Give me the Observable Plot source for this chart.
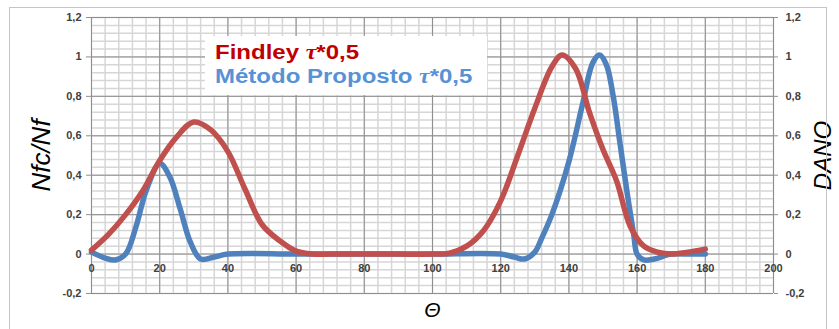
<!DOCTYPE html>
<html>
<head>
<meta charset="utf-8">
<script src="https://cdn.jsdelivr.net/npm/d3@7"></script>
<script src="https://cdn.jsdelivr.net/npm/@observablehq/plot@0.6"></script>
<style>
  html, body { margin: 0; padding: 0; background: #fff; overflow: hidden; }
  #wrap { position: relative; width: 839px; height: 329px; overflow: hidden; }
  #frame { position: absolute; left: 9px; top: 7px; width: 818px; height: 340px; border: 1px solid #c4c4c4; box-sizing: border-box; pointer-events: none; }
  #legend { position: absolute; left: 205px; top: 36px; width: 282px; height: 59px; background: #fff; font-family: "Liberation Sans", Arial, sans-serif; font-weight: bold; font-size: 20px; line-height: 24px; padding-top: 4px; box-sizing: border-box; }
  #legend div { padding-left: 10px; white-space: nowrap; }
  #legend span.t { display: inline-block; transform: scaleX(1.2); transform-origin: left center; }
  .tau { font-family: "Liberation Serif", serif; font-style: italic; font-weight: bold; }
  svg { position: absolute; left: 0; top: 0; }
</style>
</head>
<body>
<div id="wrap"></div>
<script>
// Findley τ*0,5
const thetaFindley = [0,5,10,15,20,25,30,35,40,45,50,55,60,65,70,80,90,100,105,110,115,120,125,130,135,138,142,146,150,154,158,162,166,170,175,180];
const findley      = [0.02,0.10,0.20,0.32,0.475,0.595,0.67,0.63,0.52,0.33,0.15,0.07,0.015,0,0,0,0,0,0.005,0.04,0.12,0.27,0.5,0.74,0.95,1.01,0.94,0.72,0.53,0.37,0.14,0.04,0.01,0,0.01,0.025];
// Método Proposto τ*0,5
const thetaMetodo = [0,4,7,10,13,16,20,23,26,29,32,36,40,60,80,100,120,124,127,130,132,135,140,144,147,149,151,153,155,157,159,160,162,165,170,175,180];
const metodo      = [0.01,-0.02,-0.03,0,0.136,0.32,0.46,0.39,0.23,0.06,-0.025,-0.015,0,0,0,0,0,-0.015,-0.025,0.01,0.08,0.2,0.47,0.76,0.97,1.01,0.96,0.8,0.56,0.32,0.1,0,-0.03,-0.025,0,0,0];

const xTicks = [0,20,40,60,80,100,120,140,160,180,200];
const yTicks = [-0.2,0,0.2,0.4,0.6,0.8,1,1.2];
const xMinor = d3.range(0, 201, 4);
const yMinor = d3.range(-0.2, 1.2001, 0.04).map(v => +v.toFixed(2));

const fmt = d => String(d).replace(".", ",");

const F = thetaFindley.map((t, i) => ({t, v: findley[i]}));
const M = thetaMetodo.map((t, i) => ({t, v: metodo[i]}));

const chart = Plot.plot({
  width: 839,
  height: 329,
  marginLeft: 91,
  marginRight: 66,
  marginTop: 17,
  marginBottom: 36,
  style: { fontFamily: "'Liberation Sans', Arial, sans-serif", background: "transparent" },
  x: { domain: [0, 200], axis: null },
  y: { domain: [-0.2, 1.2] },
  marks: [
    Plot.ruleX(xMinor, { stroke: "#d6d6d6", strokeWidth: 1.5 }),
    Plot.ruleY(yMinor, { stroke: "#d6d6d6", strokeWidth: 1.5 }),
    Plot.ruleX(xTicks, { stroke: "#8f8f8f", strokeWidth: 1 }),
    Plot.ruleY(yTicks, { stroke: "#8f8f8f", strokeWidth: 1 }),
    Plot.axisY(yTicks, { anchor: "left", tickSize: 5, tickPadding: 5, tickFormat: fmt, fontSize: 11, fontWeight: "bold", fill: "#404040", stroke: "#8f8f8f", label: null }),
    Plot.axisY(yTicks, { anchor: "right", tickSize: 4, tickPadding: 8, tickFormat: fmt, fontSize: 11, fontWeight: "bold", fill: "#404040", stroke: "#8f8f8f", label: null }),
    Plot.text(xTicks, { x: d => d, y: 0, dy: 14, text: d => fmt(d), fontSize: 11, fontWeight: "bold", fill: "#404040" }),
    Plot.line(M, { x: "t", y: "v", stroke: "#4F81BD", strokeWidth: 5.5, curve: "catmull-rom" }),
    Plot.line(F, { x: "t", y: "v", stroke: "#C0504D", strokeWidth: 5.5, curve: "catmull-rom" }),
    Plot.text(["Nfc/Nf"], { frameAnchor: "left", dx: -50, rotate: -90, textAnchor: "middle", lineAnchor: "middle", fontSize: 26, fontStyle: "italic", fill: "#000" }),
    Plot.text(["DANO"], { frameAnchor: "right", dx: 50, rotate: -90, textAnchor: "middle", lineAnchor: "middle", fontSize: 24, fontStyle: "italic", fill: "#000" }),
    Plot.text(["Θ"], { frameAnchor: "bottom", dy: 17, lineAnchor: "middle", fontSize: 21, fontStyle: "italic", fill: "#000" })
  ]
});

const wrap = document.getElementById("wrap");
wrap.appendChild(chart);

const frame = document.createElement("div");
frame.id = "frame";
wrap.appendChild(frame);

const legend = document.createElement("div");
legend.id = "legend";
legend.innerHTML =
  '<div style="color:#c00000"><span class="t">Findley <span class="tau">τ</span>*0,5</span></div>' +
  '<div style="color:#5892d6"><span class="t">Método Proposto <span class="tau">τ</span>*0,5</span></div>';
wrap.appendChild(legend);
</script>
</body>
</html>
